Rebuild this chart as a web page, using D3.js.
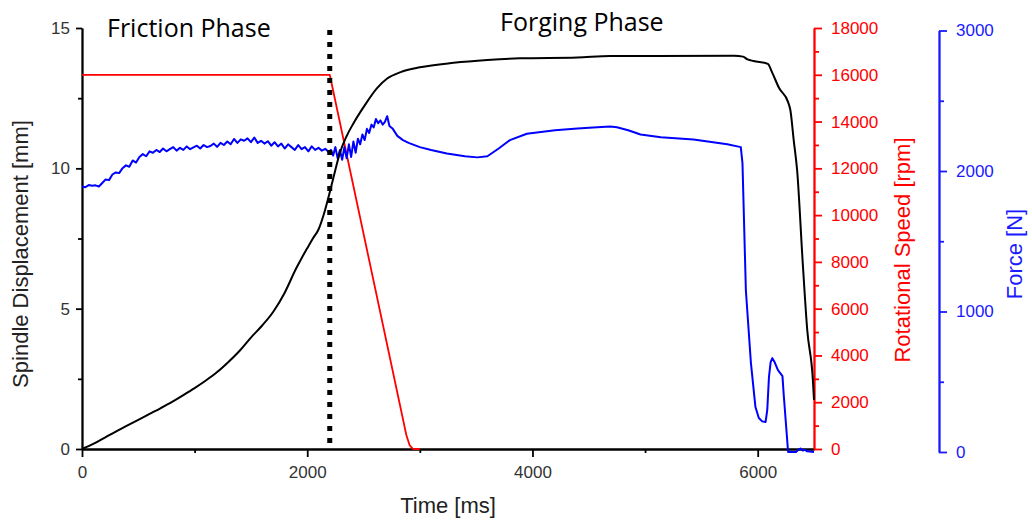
<!DOCTYPE html>
<html>
<head>
<meta charset="utf-8">
<script src="https://cdn.jsdelivr.net/npm/d3@7"></script>
<style>
  body { margin: 0; background: #fff; }
  svg { display: block; }
  .tick text { font-family: "Liberation Sans", Arial, sans-serif; font-size: 17px; }
</style>
</head>
<body>
<svg id="chart" width="1032" height="520"></svg>
<script>
// spindle displacement [mm] vs time [ms]
const dispTime = [0, 100, 200, 300, 400, 500, 600, 700, 800, 900, 1000, 1100, 1200, 1300, 1400, 1500, 1600, 1700, 1800, 1900, 1950, 2000, 2050, 2100, 2150, 2200, 2250, 2290, 2350, 2410, 2500, 2620, 2710, 2830, 3000, 3300, 3600, 3890, 4400, 4690, 5790, 5870, 5910, 6090, 6130, 6190, 6270, 6290, 6320, 6350, 6400, 6440, 6490, 6500];
const dispValues = [0, 0.18, 0.4, 0.62, 0.83, 1.04, 1.25, 1.46, 1.68, 1.92, 2.17, 2.44, 2.74, 3.1, 3.5, 3.97, 4.4, 4.9, 5.57, 6.42, 6.8, 7.15, 7.5, 7.82, 8.4, 9.15, 9.95, 10.55, 11.15, 11.6, 12.18, 12.86, 13.2, 13.43, 13.6, 13.76, 13.86, 13.92, 13.95, 14.0, 14.01, 13.98, 13.88, 13.72, 13.4, 12.86, 12.36, 12.08, 11.0, 9.94, 6.63, 4.24, 2.46, 1.75];

// rotational speed [rpm]
const speedTime = [0, 2200, 2880, 2910, 2940, 3000];
const speedValues = [16000, 16000, 600, 150, 0, 0];

// force [N]
const forceTime = [0, 30, 60, 90, 120, 150, 180, 210, 240, 270, 300, 330, 360, 390, 420, 450, 480, 510, 540, 570, 600, 630, 660, 690, 720, 750, 780, 810, 840, 870, 900, 930, 960, 990, 1020, 1050, 1080, 1110, 1140, 1170, 1200, 1230, 1260, 1290, 1320, 1350, 1380, 1410, 1440, 1470, 1500, 1530, 1560, 1590, 1620, 1650, 1680, 1710, 1740, 1770, 1800, 1830, 1860, 1890, 1920, 1950, 1980, 2010, 2040, 2070, 2100, 2130, 2160, 2190,
  2210, 2230, 2250, 2270, 2290, 2310, 2330, 2350, 2370, 2390, 2410, 2430, 2450, 2470, 2490, 2510, 2530, 2550, 2570, 2590, 2610, 2630, 2650, 2670, 2690, 2710, 2730, 2760, 2800, 2850, 2900, 3000, 3100, 3240, 3400, 3510, 3600, 3700, 3800, 3950, 4200, 4400, 4540, 4690, 4750, 4850, 4960, 5140, 5430, 5730, 5850,
  5865, 5895, 5940, 5980, 6010, 6040, 6070, 6085, 6100, 6115, 6130, 6150, 6180, 6220, 6230, 6270, 6340, 6360, 6380, 6400, 6420, 6440, 6500];
const forceValues = [1890, 1885, 1900, 1895, 1898, 1890, 1915, 1940, 1935, 1975, 1990, 1985, 2020, 2040, 2030, 2075, 2060, 2100, 2120, 2105, 2140, 2130, 2150, 2135, 2160, 2140, 2155, 2170, 2145, 2165, 2150, 2175, 2155, 2168, 2180, 2160, 2185, 2170, 2178, 2195, 2172, 2200, 2185, 2210, 2190, 2228, 2200, 2225, 2215, 2232, 2205, 2238, 2200, 2215, 2195, 2212, 2180, 2205, 2175, 2195, 2160, 2190, 2170, 2150, 2185, 2155, 2170, 2140, 2175, 2150, 2165, 2145, 2158, 2135,
  2150, 2110, 2170, 2090, 2150, 2080, 2170, 2090, 2190, 2100, 2210, 2130, 2230, 2190, 2260, 2220, 2300, 2270, 2330, 2310, 2370, 2340, 2360, 2330, 2350, 2390, 2320, 2300, 2250, 2220, 2200, 2170, 2150, 2125, 2105, 2097, 2105, 2160, 2220, 2265, 2290, 2303, 2310, 2317, 2312, 2290, 2260, 2240, 2225, 2190, 2170,
  2054, 1151, 632, 320, 242, 218, 213, 300, 533, 640, 668, 640, 583, 540, 420, 0, 0, 15, 25, 10, 15, 5, 0];

const xMajor = [0, 2000, 4000, 6000];
const xMinor = [1000, 3000, 5000];
const dispMajor = [0, 5, 10, 15];
const dispMinor = [2.5, 7.5, 12.5];
const speedMajor = [0, 2000, 4000, 6000, 8000, 10000, 12000, 14000, 16000, 18000];
const speedMinor = [1000, 3000, 5000, 7000, 9000, 11000, 13000, 15000, 17000];
const forceMajor = [0, 1000, 2000, 3000];
const forceMinor = [500, 1500, 2500];

const phaseTime = 2200;

const svg = d3.select('#chart');

const x = d3.scaleLinear().domain([0, 6500]).range([82, 814]);
const yDisp = d3.scaleLinear().domain([0, 15]).range([449, 28]);
const ySpeed = d3.scaleLinear().domain([0, 18000]).range([449, 28]);
const yForce = d3.scaleLinear().domain([0, 3000]).range([452, 30.5]);

function drawAxis(axisFn, scale, major, minor, color, transform, majorLen, minorLen, pad) {
    const gMinor = svg.append('g').attr('transform', transform)
        .call(axisFn(scale).tickValues(minor).tickSize(minorLen).tickSizeOuter(0).tickFormat(''));
    const gMajor = svg.append('g').attr('transform', transform)
        .call(axisFn(scale).tickValues(major).tickSize(majorLen).tickSizeOuter(0)
            .tickPadding(pad).tickFormat(d3.format('d')));
    [gMinor, gMajor].forEach(g => {
        g.selectAll('line').attr('stroke', color).attr('stroke-width', 1.8);
        g.select('.domain').attr('stroke', color).attr('stroke-width', 1.8);
    });
    gMajor.selectAll('text').attr('fill', color === '#000' ? '#333' : color);
    return gMajor;
}

drawAxis(d3.axisBottom, x, xMajor, xMinor, '#000', 'translate(0,449)', 8, 4, 9);
drawAxis(d3.axisLeft, yDisp, dispMajor, dispMinor, '#000', 'translate(82,0)', 6, 4, 6);
drawAxis(d3.axisRight, ySpeed, speedMajor, speedMinor, '#ff0000', 'translate(814,0)', 8, 5, 9);
drawAxis(d3.axisRight, yForce, forceMajor, forceMinor, '#1a1aff', 'translate(939,0)', 8, 5, 9);

function drawLine(times, values, yScale, color, width, curve) {
    const pts = times.map((t, i) => [t, values[i]]);
    svg.append('path')
        .datum(pts)
        .attr('fill', 'none')
        .attr('stroke', color)
        .attr('stroke-width', width)
        .attr('stroke-linejoin', 'round')
        .attr('d', d3.line().curve(curve).x(d => x(d[0])).y(d => yScale(d[1])));
}

drawLine(speedTime, speedValues, ySpeed, '#ff0000', 1.8, d3.curveLinear);
drawLine(forceTime, forceValues, yForce, '#0000ff', 2, d3.curveLinear);
drawLine(dispTime, dispValues, yDisp, '#000', 2, d3.curveMonotoneX);

// phase separator
svg.append('line')
    .attr('x1', x(phaseTime)).attr('x2', x(phaseTime))
    .attr('y1', 30).attr('y2', 447)
    .attr('stroke', '#000')
    .attr('stroke-width', 5)
    .attr('stroke-dasharray', '5,7');

// phase labels
svg.append('text').attr('x', 107).attr('y', 37)
    .attr('font-family', '"Open Sans", sans-serif').attr('font-size', 25)
    .attr('fill', '#000').text('Friction Phase');
svg.append('text').attr('x', 500).attr('y', 31)
    .attr('font-family', '"Open Sans", sans-serif').attr('font-size', 25)
    .attr('fill', '#000').text('Forging Phase');

// axis titles
const titleFont = '"Liberation Sans", Arial, sans-serif';
svg.append('text').attr('x', 448).attr('y', 513)
    .attr('text-anchor', 'middle').attr('font-family', titleFont).attr('font-size', 22)
    .attr('fill', '#222').text('Time [ms]');
svg.append('text').attr('transform', 'translate(28,254) rotate(-90)')
    .attr('text-anchor', 'middle').attr('font-family', titleFont).attr('font-size', 22)
    .attr('fill', '#222').text('Spindle Displacement [mm]');
svg.append('text').attr('transform', 'translate(910,250) rotate(-90)')
    .attr('text-anchor', 'middle').attr('font-family', titleFont).attr('font-size', 22)
    .attr('fill', '#ff0000').text('Rotational Speed [rpm]');
svg.append('text').attr('transform', 'translate(1022,254) rotate(-90)')
    .attr('text-anchor', 'middle').attr('font-family', titleFont).attr('font-size', 22)
    .attr('fill', '#1a1aff').text('Force [N]');
</script>
</body>
</html>
